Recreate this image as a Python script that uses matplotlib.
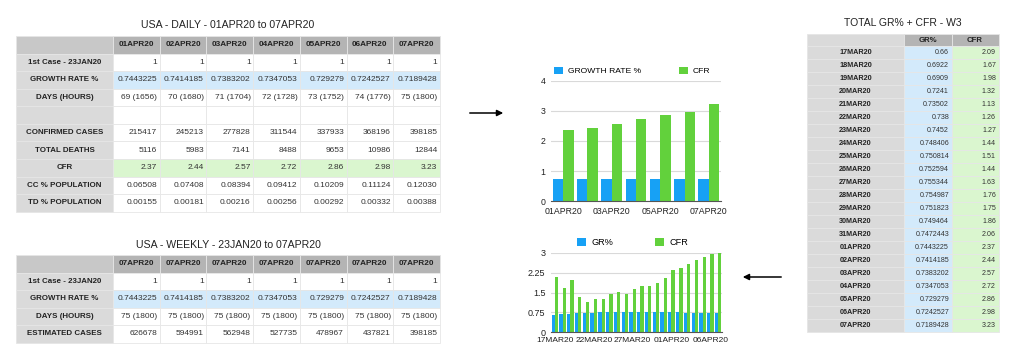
import matplotlib.pyplot as plt
import numpy as np
from matplotlib.patches import Rectangle

plt.rcParams['font.family'] = ['Liberation Sans', 'DejaVu Sans']

# data
daily_dates = ['01APR20', '02APR20', '03APR20', '04APR20', '05APR20', '06APR20', '07APR20']
first_case = [1, 1, 1, 1, 1, 1, 1]
growth_rate = ['0.7443225', '0.7414185', '0.7383202', '0.7347053', '0.729279', '0.7242527', '0.7189428']
days_hours = ['69 (1656)', '70 (1680)', '71 (1704)', '72 (1728)', '73 (1752)', '74 (1776)', '75 (1800)']
confirmed = [215417, 245213, 277828, 311544, 337933, 368196, 398185]
deaths = [5116, 5983, 7141, 8488, 9653, 10986, 12844]
cfr_daily = ['2.37', '2.44', '2.57', '2.72', '2.86', '2.98', '3.23']
cc_pop = ['0.06508', '0.07408', '0.08394', '0.09412', '0.10209', '0.11124', '0.12030']
td_pop = ['0.00155', '0.00181', '0.00216', '0.00256', '0.00292', '0.00332', '0.00388']

weekly_dates = ['07APR20'] * 7
weekly_days = ['75 (1800)'] * 7
estimated = [626678, 594991, 562948, 527735, 478967, 437821, 398185]

w3_dates = ['17MAR20', '18MAR20', '19MAR20', '20MAR20', '21MAR20', '22MAR20', '23MAR20',
            '24MAR20', '25MAR20', '26MAR20', '27MAR20', '28MAR20', '29MAR20', '30MAR20',
            '31MAR20', '01APR20', '02APR20', '03APR20', '04APR20', '05APR20', '06APR20', '07APR20']
w3_gr = ['0.66', '0.6922', '0.6909', '0.7241', '0.73502', '0.738', '0.7452', '0.748406',
         '0.750814', '0.752594', '0.755344', '0.754987', '0.751823', '0.749464', '0.7472443',
         '0.7443225', '0.7414185', '0.7383202', '0.7347053', '0.729279', '0.7242527', '0.7189428']
w3_cfr = ['2.09', '1.67', '1.98', '1.32', '1.13', '1.26', '1.27', '1.44', '1.51', '1.44', '1.63',
          '1.76', '1.75', '1.86', '2.06', '2.37', '2.44', '2.57', '2.72', '2.86', '2.98', '3.23']

BLUE = '#17a1f5'
GREEN = '#62d13c'
LBLUE = '#d3eafb'
LGREEN = '#daf6cf'
HDR = '#b4b4b4'
CORNER = '#c8c8c8'
LABEL = '#dadada'
TXT = '#333333'

fig = plt.figure(figsize=(10.24, 3.63), dpi=100)
bg = fig.add_axes([0, 0, 1, 1])
bg.set_xlim(0, 1024)
bg.set_ylim(363, 0)
bg.axis('off')


def cell(x, y, w, h, fc):
    bg.add_patch(Rectangle((x, y), w, h, facecolor=fc, edgecolor='#e6e6e6', lw=0.6))


def grid_table(x0, y0, lab_w, col_w, row_h, header, rows):
    # header row
    cell(x0, y0, lab_w, row_h, CORNER)
    for j, h in enumerate(header):
        cx = x0 + lab_w + j * col_w
        cell(cx, y0, col_w, row_h, HDR)
        bg.text(cx + col_w / 2, y0 + row_h / 2, h, ha='center', va='center',
                fontsize=5.9, fontweight='bold', color='#222222')
    for i, (label, vals, fc) in enumerate(rows):
        ry = y0 + (i + 1) * row_h
        cell(x0, ry, lab_w, row_h, LABEL)
        bg.text(x0 + lab_w / 2, ry + row_h / 2, label, ha='center', va='center',
                fontsize=5.7, fontweight='bold', color='#222222')
        for j, v in enumerate(vals):
            cx = x0 + lab_w + j * col_w
            cell(cx, ry, col_w, row_h, fc)
            bg.text(cx + col_w - 2.5, ry + row_h / 2, str(v), ha='right', va='center',
                    fontsize=6, color=TXT)


# daily table
bg.text(228, 25, 'USA - DAILY - 01APR20 to 07APR20', ha='center', va='center', fontsize=7.6, color='#222222')
grid_table(16, 36, 97, 46.7, 17.57, daily_dates, [
    ('1st Case - 23JAN20', first_case, 'white'),
    ('GROWTH RATE %', growth_rate, LBLUE),
    ('DAYS (HOURS)', days_hours, 'white'),
    ('', [''] * 7, 'white'),
    ('CONFIRMED CASES', confirmed, 'white'),
    ('TOTAL DEATHS', deaths, 'white'),
    ('CFR', cfr_daily, LGREEN),
    ('CC % POPULATION', cc_pop, 'white'),
    ('TD % POPULATION', td_pop, 'white'),
])

# weekly table
bg.text(228, 245, 'USA - WEEKLY - 23JAN20 to 07APR20', ha='center', va='center', fontsize=7.6, color='#222222')
grid_table(16, 255, 97, 46.7, 17.54, weekly_dates, [
    ('1st Case - 23JAN20', first_case, 'white'),
    ('GROWTH RATE %', growth_rate, LBLUE),
    ('DAYS (HOURS)', weekly_days, 'white'),
    ('ESTIMATED CASES', estimated, 'white'),
])

# right table
bg.text(903, 23, 'TOTAL GR% + CFR - W3', ha='center', va='center', fontsize=7.5, color='#222222')
rx0, ry0, rh = 807, 33.5, 12.97
cell(rx0, ry0, 97, rh, LABEL)
cell(904, ry0, 47.5, rh, HDR)
cell(951.5, ry0, 47, rh, HDR)
bg.text(904 + 47.5 / 2, ry0 + rh / 2 + 1, 'GR%', ha='center', va='center', fontsize=5.6, fontweight='bold', color='#222222')
bg.text(951.5 + 47 / 2, ry0 + rh / 2 + 1, 'CFR', ha='center', va='center', fontsize=5.6, fontweight='bold', color='#222222')
for i, (d, g, c) in enumerate(zip(w3_dates, w3_gr, w3_cfr)):
    y = ry0 + (i + 1) * rh
    cell(rx0, y, 97, rh, LABEL)
    cell(904, y, 47.5, rh, LBLUE)
    cell(951.5, y, 47, rh, LGREEN)
    bg.text(rx0 + 48.5, y + rh / 2, d, ha='center', va='center', fontsize=5.2, fontweight='bold', color='#222222')
    bg.text(949, y + rh / 2, g, ha='right', va='center', fontsize=5.1, color=TXT)
    bg.text(996, y + rh / 2, c, ha='right', va='center', fontsize=5.1, color=TXT)

# arrows
bg.annotate('', xy=(506, 113), xytext=(467, 113),
            arrowprops=dict(arrowstyle='-|>', color='black', lw=1.1, mutation_scale=9))
bg.annotate('', xy=(740, 277), xytext=(784, 277),
            arrowprops=dict(arrowstyle='-|>', color='black', lw=1.1, mutation_scale=9))


def ax_at(x0, y0, x1, y1):
    return fig.add_axes([x0 / 1024, 1 - y1 / 363, (x1 - x0) / 1024, (y1 - y0) / 363])


def style(ax, ticks, fs):
    ax.set_yticks(ticks)
    ax.grid(axis='y', color='#d9d9d9', lw=0.8)
    ax.set_axisbelow(True)
    for s in ['top', 'right', 'left']:
        ax.spines[s].set_visible(False)
    ax.spines['bottom'].set_color('#555555')
    ax.tick_params(length=0, labelsize=fs, colors='#222222', pad=4)


# top chart
ax1 = ax_at(551, 81, 721, 201)
x = np.arange(len(daily_dates))
w = 0.43
ax1.bar(x - w / 2, [float(v) for v in growth_rate], w, color=BLUE, label='GROWTH RATE %')
ax1.bar(x + w / 2, [float(v) for v in cfr_daily], w, color=GREEN, label='CFR')
ax1.set_ylim(0, 4)
ax1.set_xlim(-0.5, len(x) - 0.5)
style(ax1, [0, 1, 2, 3, 4], 6.3)
ax1.set_xticks(x[::2])
ax1.set_xticklabels(daily_dates[::2])
ax1.legend(loc='lower left', bbox_to_anchor=(0.0, 1.02), ncol=2, frameon=False, fontsize=6.1,
           handlelength=1.0, handleheight=1.0, columnspacing=4.5, handletextpad=0.6, borderaxespad=0)

# bottom chart
ax2 = ax_at(551, 253, 722, 332)
x2 = np.arange(len(w3_dates))
w2 = 0.42
ax2.bar(x2 - w2 / 2, [float(v) for v in w3_gr], w2, color=BLUE, label='GR%')
ax2.bar(x2 + w2 / 2, [float(v) for v in w3_cfr], w2, color=GREEN, label='CFR')
ax2.set_ylim(0, 3)
ax2.set_xlim(-0.5, len(x2) - 0.5)
style(ax2, [0, 0.75, 1.5, 2.25, 3], 6.5)
ax2.set_yticklabels(['0', '0.75', '1.5', '2.25', '3'])
ax2.set_xticks(x2[::5])
ax2.set_xticklabels(w3_dates[::5])
ax2.tick_params(axis='x', pad=3.5, labelsize=6.0)
ax2.legend(loc='lower left', bbox_to_anchor=(0.13, 1.03), ncol=2, frameon=False, fontsize=6.6,
           handlelength=1.0, handleheight=1.0, columnspacing=4.5, handletextpad=0.6, borderaxespad=0)

fig.savefig('out.png', dpi=100)
